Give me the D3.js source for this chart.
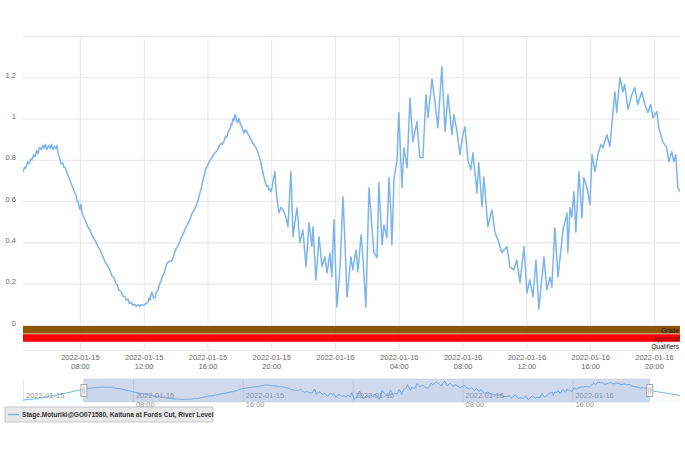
<!DOCTYPE html>
<html>
<head>
<meta charset="utf-8">
<script src="https://cdn.jsdelivr.net/npm/d3@7"></script>
<style>
  body { margin: 0; background: #fff; }
  text { font-family: "Liberation Sans", Arial, sans-serif; }
</style>
</head>
<body>
<div id="chart"></div>
<script>

// ---- data ----
// minutes after 2022-01-15 00:00, and the river level at that time
var startTime = "2022-01-15 00:00";

var levelMinutes = [
    0, 30, 60, 90, 120, 150, 180, 210, 240,
    266, 272, 277, 283, 289, 295, 300, 306, 311, 317,
    322, 328, 334, 340, 345, 350, 356, 362, 368, 373,
    379, 384, 390, 394, 398, 404, 409, 415, 420, 426,
    432, 437, 443, 449, 454, 460, 465, 469, 473, 477,
    480, 484, 488, 492, 497, 503, 510, 518, 527, 537,
    546, 556, 565, 574, 583, 593, 600, 608, 614, 620,
    627, 635, 642, 650, 655, 661, 666, 672, 680, 687,
    693, 699, 705, 710, 718, 725, 730, 736, 740, 744,
    748, 751, 757, 763, 768, 774, 780, 785, 790, 796,
    802, 808, 813, 819, 825, 830, 836, 842, 849, 857,
    864, 872, 877, 883, 889, 894, 900, 906, 913, 921,
    926, 932, 938, 943, 949, 954, 960, 966, 971, 977,
    983, 988, 994, 1000, 1005, 1011, 1016, 1022, 1028, 1033,
    1039, 1045, 1049, 1052, 1056, 1060, 1064, 1067, 1071, 1075,
    1078, 1082, 1086, 1090, 1094, 1097, 1101, 1105, 1108, 1112,
    1116, 1120, 1125, 1131, 1135, 1139, 1144, 1150, 1155, 1161,
    1165, 1169, 1173, 1176, 1180, 1184, 1188, 1191, 1195, 1199,
    1203, 1206, 1210, 1214, 1218, 1221, 1225, 1229,
    1237, 1244, 1255, 1263, 1274, 1282, 1289, 1297, 1308, 1319,
    1331, 1342, 1353, 1357, 1368, 1380, 1391, 1402, 1410, 1421,
    1428, 1436, 1447, 1459, 1470, 1477, 1485, 1500, 1507, 1519,
    1526, 1538, 1545, 1556, 1568, 1579, 1586, 1598, 1605, 1617,
    1624, 1635, 1643, 1650, 1654, 1662, 1673, 1680, 1692, 1699,
    1711, 1722, 1733, 1748, 1759, 1771, 1782, 1790, 1805, 1816,
    1827, 1842, 1854, 1865, 1880, 1887, 1899, 1910, 1921, 1929,
    1940, 1951, 1959, 1974, 1981, 1993, 2000, 2015, 2030, 2042,
    2053, 2068, 2087, 2098, 2113, 2124, 2136, 2151, 2162, 2173,
    2185, 2196, 2207, 2226, 2237, 2249, 2256, 2267, 2279, 2298,
    2313, 2316, 2324, 2331, 2339, 2346, 2358, 2369, 2376, 2388,
    2399, 2407, 2418, 2429, 2440, 2448, 2463, 2474, 2485, 2493,
    2500, 2512, 2523, 2530, 2542, 2557, 2568, 2579, 2594, 2606,
    2617, 2628, 2636, 2651, 2658, 2673, 2688, 2696, 2707, 2715,
    2722, 2730,
    2760, 2790, 2820, 2850, 2870
];

var levelValues = [
    0.05, 0.09, 0.14, 0.21, 0.29, 0.38, 0.47, 0.56, 0.66,
    0.744, 0.765, 0.76, 0.79, 0.78, 0.805, 0.80, 0.825, 0.815, 0.845,
    0.83, 0.86, 0.85, 0.87, 0.855, 0.875, 0.85, 0.87, 0.855, 0.875,
    0.85, 0.865, 0.855, 0.87, 0.83, 0.81, 0.78, 0.785, 0.765, 0.76,
    0.735, 0.72, 0.70, 0.68, 0.665, 0.64, 0.63, 0.605, 0.60, 0.575,
    0.56, 0.585, 0.545, 0.53, 0.515, 0.50, 0.475, 0.46, 0.43, 0.41,
    0.385, 0.364, 0.335, 0.31, 0.29, 0.267, 0.24, 0.23, 0.205, 0.194,
    0.17, 0.16, 0.14, 0.137, 0.12, 0.125, 0.105, 0.11, 0.095, 0.10,
    0.09, 0.098, 0.09, 0.10, 0.095, 0.10, 0.105, 0.11, 0.13, 0.12,
    0.15, 0.16, 0.13, 0.135, 0.16, 0.17, 0.20, 0.21, 0.235, 0.25,
    0.275, 0.30, 0.305, 0.31, 0.31, 0.32, 0.35, 0.37, 0.385, 0.41,
    0.43, 0.45, 0.47, 0.48, 0.50, 0.51, 0.535, 0.55, 0.565, 0.59,
    0.61, 0.64, 0.67, 0.70, 0.73, 0.76, 0.77, 0.79, 0.80, 0.81,
    0.825, 0.835, 0.84, 0.855, 0.87, 0.88, 0.875, 0.89, 0.915, 0.91,
    0.94, 0.95, 0.975, 0.97, 1.00, 0.99, 1.02, 1.01, 0.985, 0.98,
    1.00, 0.985, 0.965, 0.96, 0.94, 0.93, 0.945, 0.935, 0.94, 0.925,
    0.92, 0.905, 0.895, 0.88, 0.875, 0.865, 0.855, 0.835, 0.815, 0.79,
    0.76, 0.737, 0.715, 0.70, 0.68, 0.67, 0.675, 0.655, 0.66, 0.646,
    0.665, 0.69, 0.72, 0.743, 0.66, 0.62, 0.58, 0.543,
    0.57, 0.558, 0.524, 0.476, 0.743, 0.427, 0.50, 0.568, 0.398, 0.461,
    0.282, 0.495, 0.38, 0.476, 0.218, 0.427, 0.282, 0.33, 0.252, 0.35,
    0.233, 0.51, 0.087, 0.282, 0.621, 0.413, 0.136, 0.33, 0.267, 0.364,
    0.257, 0.437, 0.325, 0.087, 0.665, 0.471, 0.354, 0.325, 0.689, 0.388,
    0.485, 0.422, 0.713, 0.549, 0.388, 0.713, 0.791, 1.03, 0.665, 0.859,
    0.762, 1.10, 0.888, 0.985, 0.811, 0.81, 1.116, 1.005, 1.19, 1.08,
    0.956, 1.252, 0.937, 1.116, 0.922, 1.02, 0.937, 0.825, 0.922, 0.96,
    0.80, 0.752, 0.834, 0.64, 0.786, 0.573, 0.718, 0.476, 0.558, 0.447,
    0.413, 0.35, 0.38, 0.282, 0.267, 0.315, 0.204, 0.38, 0.155, 0.218,
    0.136, 0.315, 0.078, 0.33, 0.17, 0.233, 0.184, 0.471, 0.233, 0.461,
    0.543, 0.35, 0.568, 0.524, 0.646, 0.45, 0.743, 0.519, 0.714, 0.665,
    0.583, 0.825, 0.743, 0.825, 0.874, 0.859, 0.922, 0.864, 1.02, 1.13,
    1.03, 1.199, 1.13, 1.165, 1.044, 1.117, 1.15, 1.068, 1.13, 1.068,
    1.03, 1.068, 1.005, 1.034, 0.956, 0.888, 0.859, 0.791, 0.84, 0.791,
    0.825, 0.665,
    0.60, 0.53, 0.46, 0.39, 0.34
];

// visible window of the main chart
var viewStart = "2022-01-15 04:26";
var viewEnd = "2022-01-16 21:38";

var yTickValues = [0, 0.2, 0.4, 0.6, 0.8, 1, 1.2];
var yGridValues = [0, 0.2, 0.4, 0.6, 0.8, 1, 1.2, 1.4];

var bandNames = ["Grade", "Approval", "Qualifiers"];
var bandColors = ["#8c5600", "#ff0000", "#ffffff"];
var bandTextColors = ["#1a1a1a", "#7a0000", "#222"];

var legendLabel = "Stage.Moturiki@GO071580, Kaituna at Fords Cut, River Level";
var seriesColor = "#7cb5ec";


// ---- setup ----
var width = 685, height = 457;
var plot = { left: 23, right: 680, top: 36, bottom: 325 };
var nav = { top: 379, bottom: 402 };

var parseTime = d3.timeParse("%Y-%m-%d %H:%M");
var t0 = parseTime(startTime);

var n = Math.min(levelMinutes.length, levelValues.length);
var data = [];
for (var i = 0; i < n; i++) {
    data.push({ date: d3.timeMinute.offset(t0, levelMinutes[i]), value: levelValues[i] });
}

var svg = d3.select("#chart").append("svg")
    .attr("width", width)
    .attr("height", height);

// Scales
var x = d3.scaleTime()
    .domain([parseTime(viewStart), parseTime(viewEnd)])
    .range([plot.left, plot.right]);

var y = d3.scaleLinear()
    .domain([0, 1.4])
    .range([plot.bottom, plot.top]);

var xTicks = x.ticks(d3.timeHour.every(4));

// Horizontal grid
svg.append("g")
    .attr("class", "y-grid")
    .attr("transform", "translate(" + plot.left + ",0)")
    .call(d3.axisLeft(y).tickValues(yGridValues).tickSize(-(plot.right - plot.left)).tickFormat(""))
    .call(function(g) { g.select(".domain").remove(); })
    .selectAll("line")
    .attr("stroke", "#e6e6e6");

// Vertical grid (runs down through the bands)
svg.append("g")
    .attr("class", "x-grid")
    .attr("transform", "translate(0," + plot.top + ")")
    .call(d3.axisBottom(x).tickValues(xTicks).tickSize(350 - plot.top).tickFormat(""))
    .call(function(g) { g.select(".domain").remove(); })
    .selectAll("line")
    .attr("stroke", "#e6e6e6");

// Y axis labels
svg.append("g")
    .attr("class", "y-axis")
    .attr("transform", "translate(" + plot.left + ",0)")
    .call(d3.axisLeft(y).tickValues(yTickValues).tickSize(0).tickPadding(7).tickFormat(d3.format("~g")))
    .call(function(g) { g.select(".domain").remove(); })
    .selectAll("text")
    .attr("dy", "0em")
    .attr("fill", "#666")
    .style("font-size", "7.5px");

// Main line, clipped to the plot
svg.append("clipPath")
    .attr("id", "plot-clip")
    .append("rect")
    .attr("x", plot.left)
    .attr("y", plot.top - 5)
    .attr("width", plot.right - plot.left)
    .attr("height", plot.bottom - plot.top + 5);

var line = d3.line()
    .x(function(d) { return x(d.date); })
    .y(function(d) { return y(d.value); });

svg.append("path")
    .datum(data)
    .attr("clip-path", "url(#plot-clip)")
    .attr("d", line)
    .attr("fill", "none")
    .attr("stroke", seriesColor)
    .attr("stroke-width", 1.5)
    .attr("stroke-linejoin", "round");

// Grade / approval / qualifier bands
var band = d3.scaleBand()
    .domain(bandNames)
    .range([326, 350])
    .paddingInner(0.08);

svg.append("g").selectAll("rect")
    .data(bandNames)
    .enter().append("rect")
    .attr("x", plot.left)
    .attr("y", function(d) { return band(d); })
    .attr("width", plot.right - plot.left)
    .attr("height", band.bandwidth())
    .attr("fill", function(d, i) { return bandColors[i]; })
    .attr("fill-opacity", function(d, i) { return i == 2 ? 0 : 1; });

svg.append("g").selectAll("text")
    .data(bandNames)
    .enter().append("text")
    .attr("x", plot.right - 1)
    .attr("y", function(d) { return band(d) + band.bandwidth() - 1; })
    .attr("text-anchor", "end")
    .attr("fill", function(d, i) { return bandTextColors[i]; })
    .style("font-size", "6.5px")
    .text(function(d) { return d; });

svg.append("line")
    .attr("x1", plot.left).attr("x2", plot.right)
    .attr("y1", 350.5).attr("y2", 350.5)
    .attr("stroke", "#e6e6e6");

// X axis labels (date + time, midnight shows date only)
var fmtDate = d3.timeFormat("%Y-%m-%d"),
    fmtTime = d3.timeFormat("%H:%M");

var xAxis = svg.append("g")
    .attr("class", "x-axis")
    .attr("transform", "translate(0,351)")
    .call(d3.axisBottom(x).tickValues(xTicks).tickSize(0).tickPadding(0).tickFormat(""));
xAxis.select(".domain").remove();

xAxis.selectAll(".tick text").each(function(d) {
    var t = d3.select(this)
        .attr("y", 0).attr("dy", 0)
        .attr("fill", "#666")
        .style("font-size", "7.5px");
    t.append("tspan").attr("x", 0).attr("y", 9).text(fmtDate(d));
    if (d.getHours() !== 0 || d.getMinutes() !== 0) {
        t.append("tspan").attr("x", 0).attr("y", 18).text(fmtTime(d));
    }
});


// ---- navigator ----
var navX = d3.scaleTime()
    .domain(d3.extent(data, function(d) { return d.date; }))
    .range([plot.left, plot.right]);

var navY = d3.scaleLinear()
    .domain(d3.extent(data, function(d) { return d.value; }))
    .range([nav.bottom - 2, nav.top + 2]);

var navTicks = navX.ticks(d3.timeHour.every(8));

svg.append("g")
    .attr("transform", "translate(0," + nav.top + ")")
    .call(d3.axisBottom(navX).tickValues(navTicks).tickSize(nav.bottom - nav.top).tickFormat(""))
    .call(function(g) { g.select(".domain").remove(); })
    .selectAll("line")
    .attr("stroke", "#e6e6e6");

var navLine = d3.line()
    .x(function(d) { return navX(d.date); })
    .y(function(d) { return navY(d.value); });

var navArea = d3.area()
    .x(function(d) { return navX(d.date); })
    .y0(nav.bottom)
    .y1(function(d) { return navY(d.value); });

svg.append("path")
    .datum(data)
    .attr("d", navArea)
    .attr("fill", seriesColor)
    .attr("fill-opacity", 0.06);

svg.append("path")
    .datum(data)
    .attr("d", navLine)
    .attr("fill", "none")
    .attr("stroke", seriesColor)
    .attr("stroke-width", 1);

// navigator labels, left aligned beside each tick
var navLabels = svg.append("g").selectAll("text")
    .data(navTicks)
    .enter().append("text")
    .attr("x", function(d) { return navX(d) + 3; })
    .attr("fill", "#999")
    .style("font-size", "7.5px");
navLabels.append("tspan")
    .attr("y", 398)
    .text(function(d) { return fmtDate(d); });
navLabels.append("tspan")
    .attr("x", function(d) { return navX(d) + 3; })
    .attr("y", 407)
    .text(function(d) { return (d.getHours() === 0) ? "" : fmtTime(d); });

// selected range mask
var x0 = navX(parseTime(viewStart)), x1 = navX(parseTime(viewEnd));
svg.append("rect")
    .attr("x", x0)
    .attr("y", nav.top)
    .attr("width", x1 - x0)
    .attr("height", nav.bottom - nav.top)
    .attr("fill", "rgba(102,133,194,0.3)")
    .attr("stroke", "#c4c8d4")
    .attr("stroke-width", 0.5);

// handles
var handles = svg.append("g").selectAll("g")
    .data([x0, x1])
    .enter().append("g")
    .attr("transform", function(d) { return "translate(" + d + "," + ((nav.top + nav.bottom) / 2) + ")"; });
handles.append("rect")
    .attr("x", -3).attr("y", -6)
    .attr("width", 6).attr("height", 12)
    .attr("fill", "#f2f2f2")
    .attr("stroke", "#999")
    .attr("stroke-width", 0.8);
handles.append("path")
    .attr("d", "M-1,-3V3M1,-3V3")
    .attr("stroke", "#999")
    .attr("stroke-width", 0.6);


// ---- legend ----
var legend = svg.append("g").attr("transform", "translate(5,407)");
legend.append("rect")
    .attr("width", 208)
    .attr("height", 15)
    .attr("fill", "#e8e8e8")
    .attr("stroke", "#bdbdbd")
    .attr("stroke-width", 0.8);
legend.append("line")
    .attr("x1", 3).attr("x2", 14)
    .attr("y1", 7.5).attr("y2", 7.5)
    .attr("stroke", seriesColor)
    .attr("stroke-width", 1.5);
legend.append("text")
    .attr("x", 17)
    .attr("y", 10.3)
    .attr("fill", "#333")
    .style("font-size", "6.6px")
    .style("font-weight", "bold")
    .text(legendLabel);

</script>
</body>
</html>
